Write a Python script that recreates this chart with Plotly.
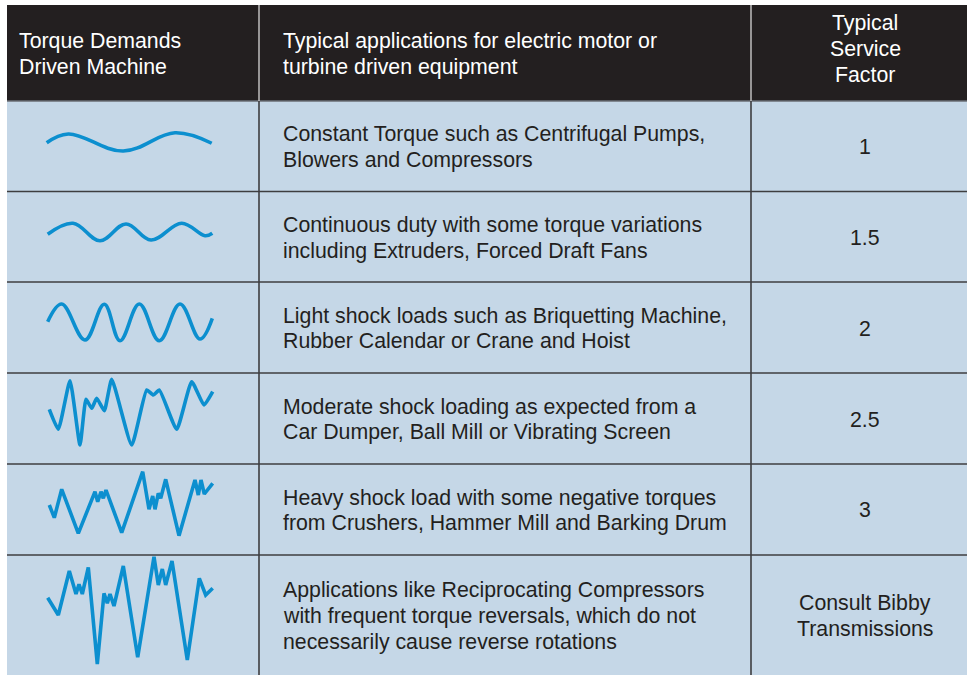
import plotly.graph_objects as go

W, H = 967, 675

# ---------------- data ----------------
header_col1 = ["Torque Demands", "Driven Machine"]
header_col2 = ["Typical applications for electric motor or", "turbine driven equipment"]
header_col3 = ["Typical", "Service", "Factor"]

applications = [
    ["Constant Torque such as Centrifugal Pumps,", "Blowers and Compressors"],
    ["Continuous duty with some torque variations", "including Extruders, Forced Draft Fans"],
    ["Light shock loads such as Briquetting Machine,", "Rubber Calendar or Crane and Hoist"],
    ["Moderate shock loading as expected from a", "Car Dumper, Ball Mill or Vibrating Screen"],
    ["Heavy shock load with some negative torques", "from Crushers, Hammer Mill and Barking Drum"],
    ["Applications like Reciprocating Compressors",
     "with frequent torque reversals, which do not",
     "necessarily cause reverse rotations"],
]
service_factors = [["1"], ["1.5"], ["2"], ["2.5"], ["3"], ["Consult Bibby", "Transmissions"]]

# torque demand traces (time units, torque units) for each row
wave1_t = [0, 21.6, 76.6, 128.3, 165]
wave1_v = [3.5, 12.3, -4.8, 13.5, 3]

wave2_t = [1, 26.3, 53.3, 79.3, 104.3, 135, 158.3, 165.6]
wave2_v = [2.5, 13.5, -4, 12.8, -3.3, 13.5, 1, 3.5]

wave3_t = [1, 15, 38.3, 57.6, 73.3, 92.6, 112.6, 133.3, 153.3, 165.6]
wave3_v = [5.8, 23.5, -12.5, 23.2, -13.2, 23.5, -13.2, 23.5, -11.5, 9.2]

wave4_t = [2.6, 11.6, 23.3, 33.3, 39.3, 45, 50, 57.6, 65, 85, 100, 106.6, 112.6, 130, 145, 157.3, 166]
wave4_v = [9.2, -10.8, 37.8, -26.5, 19.2, 10.2, 20.2, 7.8, 39.2, -26.5, 28.5, 23.5, 28.5, -10.8, 36.8, 13.5, 26.8]

wave5_t = [2.6, 7.6, 15, 31.6, 48.3, 51, 54.3, 56.6, 59.3, 75, 96, 102.3, 106, 108.3, 111.6, 114,
           119, 132.3, 148.3, 151.6, 154.3, 157.6, 166]
wave5_v = [4.5, -8.2, 20.2, -23.8, 17.8, 7.8, 17.8, 11.2, 19.5, -23.2, 37.8, 0.2, 13.5, 0.2, 16.2, 11.2,
           30.2, -26.2, 29.5, 14.5, 29.5, 15.5, 26.2]

wave6_t = [1, 11.6, 22.6, 29.3, 32.3, 35.6, 41.6, 50.6, 57.3, 60.6, 63.3, 67.3, 76.6, 91, 107.3, 111.6,
           115.6, 119, 125.3, 140.6, 152.6, 159, 166]
wave6_v = [17.3, 0, 44, 21, 30.7, 21, 47.7, -49, 21.7, 11.7, 21, 9, 49, -42.3, 58.3, 30, 46, 30, 54,
           -45, 36.7, 20, 26.7]

waves_t = [wave1_t, wave2_t, wave3_t, wave4_t, wave5_t, wave6_t]
waves_v = [wave1_v, wave2_v, wave3_v, wave4_v, wave5_v, wave6_v]
wave_shapes = ["spline", "spline", "spline", "spline", "linear", "linear"]
wave_smooth = [1.1, 1.1, 1.1, 0.45, 0, 0]

# ---------------- layout (pixel geometry) ----------------
TABLE_L, COL1, COL2, TABLE_R = 7, 259, 751, 985
HEADER_TOP = 5
ROW_EDGES = [101, 191.5, 282, 373, 464, 555, 675]
GLYPH_X0 = 46.7
HEAD1_X = 17
TXT_X = 281
SF_X = 865
PITCH_BODY = 25.8
PITCH_HEAD = 26.0

HEADER_BG = "#231f20"
ROW_BG = "#c5d7e7"
GRID = "#3e3e40"
TEXT = "#231f20"
WAVE = "#0c8fcf"
FONT = "Liberation Sans, Arial, Helvetica, sans-serif"
FS = 21.3


def px(x):
    return x / W


def py(y):
    return 1 - y / H


fig = go.Figure()
layout_axes = {}
PAD = 8
for i in range(6):
    top, bot = ROW_EDGES[i], ROW_EDGES[i + 1]
    ctr = (top + bot) / 2
    dtop = max(top - PAD, 0)
    dbot = min(bot + PAD, H)
    k = "" if i == 0 else str(i + 1)
    layout_axes["xaxis" + k] = dict(domain=[px(TABLE_L), px(COL1)],
                                    range=[TABLE_L - GLYPH_X0, COL1 - GLYPH_X0],
                                    visible=False, fixedrange=True, anchor="y" + k)
    layout_axes["yaxis" + k] = dict(domain=[py(dbot), py(dtop)],
                                    range=[ctr - dbot, ctr - dtop],
                                    visible=False, fixedrange=True, anchor="x" + k)
    fig.add_trace(go.Scatter(
        x=waves_t[i], y=waves_v[i], mode="lines",
        line=dict(color=WAVE, width=3.6, shape=wave_shapes[i],
                  smoothing=wave_smooth[i] if wave_shapes[i] == "spline" else None),
        xaxis="x" + k, yaxis="y" + k, hoverinfo="skip", showlegend=False,
    ))

shapes = []
# header band
shapes.append(dict(type="rect", xref="paper", yref="paper", x0=px(TABLE_L), x1=px(TABLE_R),
                   y0=py(ROW_EDGES[0]), y1=py(HEADER_TOP), fillcolor=HEADER_BG, line_width=0, layer="below"))
# body
shapes.append(dict(type="rect", xref="paper", yref="paper", x0=px(TABLE_L), x1=px(TABLE_R),
                   y0=py(ROW_EDGES[-1]), y1=py(ROW_EDGES[0]), fillcolor=ROW_BG, line_width=0, layer="below"))
# horizontal rules
for j, y in enumerate(ROW_EDGES[:-1]):
    shapes.append(dict(type="line", xref="paper", yref="paper", x0=px(TABLE_L), x1=px(TABLE_R),
                       y0=py(y), y1=py(y), line=dict(color="#6a6e74" if j == 0 else GRID, width=1.6),
                       layer="below"))
# vertical rules
for x in (COL1, COL2):
    shapes.append(dict(type="line", xref="paper", yref="paper", x0=px(x), x1=px(x),
                       y0=py(ROW_EDGES[0]), y1=py(HEADER_TOP), line=dict(color="#e6e6e6", width=1.2),
                       layer="below"))
    shapes.append(dict(type="line", xref="paper", yref="paper", x0=px(x), x1=px(x),
                       y0=py(ROW_EDGES[-1]), y1=py(ROW_EDGES[0]), line=dict(color=GRID, width=1.6),
                       layer="below"))

annotations = []


def add_lines(lines, x, center, pitch, color, xanchor):
    n = len(lines)
    for i, s in enumerate(lines):
        yc = center + (i - (n - 1) / 2) * pitch
        annotations.append(dict(text=s, x=px(x), y=py(yc), xref="paper", yref="paper",
                                xanchor=xanchor, yanchor="middle", showarrow=False,
                                font=dict(family=FONT, size=FS, color=color)))


hc = (HEADER_TOP + ROW_EDGES[0]) / 2
add_lines(header_col1, HEAD1_X, hc + 0.5, PITCH_HEAD, "white", "left")
add_lines(header_col2, TXT_X, hc + 0.5, PITCH_HEAD, "white", "left")
add_lines(header_col3, SF_X, hc - 3.8, PITCH_HEAD, "white", "center")

for i in range(6):
    ctr = (ROW_EDGES[i] + ROW_EDGES[i + 1]) / 2
    add_lines(applications[i], TXT_X, ctr + 1, PITCH_BODY, TEXT, "left")
    add_lines(service_factors[i], SF_X, ctr + 1, PITCH_BODY, TEXT, "center")

fig.update_layout(
    width=W, height=H,
    margin=dict(l=0, r=0, t=0, b=0),
    paper_bgcolor="white", plot_bgcolor="rgba(0,0,0,0)",
    shapes=shapes, annotations=annotations,
    showlegend=False,
    **layout_axes,
)

fig.write_html("out.html", config={"displayModeBar": False},
               post_script="document.body.style.margin='0';document.body.style.overflow='hidden';")
